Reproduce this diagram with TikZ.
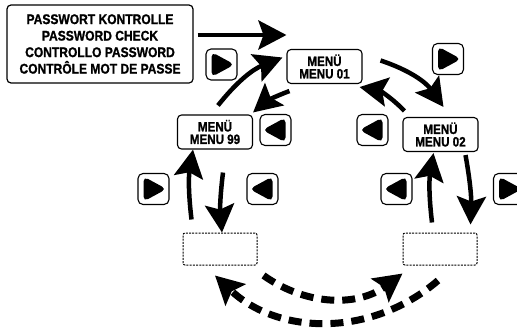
\documentclass[tikz,border=0pt]{standalone}
\usepackage{fontspec}
\setmainfont{Liberation Sans}[FakeStretch=0.86, BoldFeatures={FakeBold=1.2}]
\usetikzlibrary{positioning,arrows.meta,calc}

\begin{document}
\begin{tikzpicture}[
  x=1pt, y=-1pt,
  pwbox/.style={draw, line width=1.2pt, rounded corners=4pt, align=center, minimum width=186pt, minimum height=78pt, inner sep=0pt, font=\bfseries\fontsize{14}{16.5}\selectfont},
  menu/.style={draw, line width=1.1pt, rounded corners=4pt, align=center, minimum width=75pt, minimum height=34pt, inner sep=0pt, font=\bfseries\fontsize{13.5}{12.5}\selectfont},
  slot/.style={draw, line width=1pt, dash pattern=on 2pt off 1.2pt, rounded corners=2pt, minimum width=74pt, minimum height=32pt},
  btn/.style={draw, line width=1.1pt, rounded corners=5pt, minimum size=31pt, inner sep=0pt},
  bright/.style={btn, path picture={\fill ($(path picture bounding box.center)+(-10pt,-12.5pt)$) -- ++(0pt,25pt) -- ($(path picture bounding box.center)+(13pt,0pt)$) -- cycle;}},
  bleft/.style={btn, path picture={\fill ($(path picture bounding box.center)+(10pt,-12.5pt)$) -- ++(0pt,25pt) -- ($(path picture bounding box.center)+(-13pt,0pt)$) -- cycle;}},
  arr/.style={line width=4.5pt, -{Stealth[length=28pt, width=29pt, inset=5pt]}},
  darr/.style={arr, line width=7pt, dash pattern=on 13pt off 8pt},
]
\useasboundingbox (0,0) rectangle (517,335);
% ---- boxes ----
\node[pwbox] (pw) at (100,44) {PASSWORT KONTROLLE\\PASSWORD CHECK\\CONTROLLO PASSWORD\\CONTRÔLE MOT DE PASSE};
\node[menu] (m01) at (324.5,66.5) {MENÜ\\MENU 01};
\node[menu] (m99) at (215,132) {MENÜ\\MENU 99};
\node[menu] (m02) at (440.5,134.5) {MENÜ\\MENU 02};
\node[slot] (dl) at (220,249) {};
\node[slot] (dr) at (440,249) {};
% ---- keys ----
\node[bright] (kA) at (221.5,64.5) {};
\node[bright] (kB) at (448,59) {};
\node[bleft] (kC) at (275.5,130) {};
\node[bleft] (kD) at (372.5,130) {};
\node[bright] (kE) at (153.5,189) {};
\node[bleft] (kF) at (262.5,189) {};
\node[bleft] (kG) at (396.5,189) {};
\node[bright] (kH) at (509,189) {};
% ---- arrows ----
\coordinate (pwout) at ([yshift=9pt]pw.east);
\draw[arr] ([xshift=4pt]pwout) -- (pwout -| m01.west);
\draw[arr] ([xshift=3pt,yshift=9pt]m99.north) to[bend left=15] ([xshift=-4pt,yshift=9pt]m01.west);
\draw[arr] ([xshift=3pt,yshift=-7pt]m01.south west) to[bend right=10] ([yshift=2pt]m99.north east);
\draw[arr] ([xshift=18pt,yshift=6pt]m01.east) to[bend left=18] ([xshift=3pt,yshift=10pt]m02.north);
\draw[arr] ([xshift=2pt,yshift=6pt]m02.north west) to[bend right=18] ([xshift=-3pt,yshift=-3pt]m01.south east);
\draw[arr] ([xshift=9pt,yshift=13pt]dl.north west) to[bend left=8] ([xshift=-22pt]m99.south);
\draw[arr] ([xshift=8pt,yshift=-23pt]m99.south) to[bend right=6] ([xshift=2pt]dl.north);
\draw[arr] ([xshift=-8pt,yshift=10pt]dr.north) to[bend left=8] ([xshift=-7pt,yshift=-1pt]m02.south);
\draw[arr] ([xshift=25pt,yshift=-3pt]m02.south) to[bend left=6] ([xshift=-7pt,yshift=8pt]dr.north east);
\draw[darr] ([xshift=6pt,yshift=-10pt]dl.south east) to[bend right=36] ([yshift=-8pt]dr.south west);
\draw[darr] ([xshift=-2pt,yshift=-15pt]dr.south) to[bend left=42] ([xshift=-5pt,yshift=-10pt]dl.south);
\end{tikzpicture}
\end{document}
